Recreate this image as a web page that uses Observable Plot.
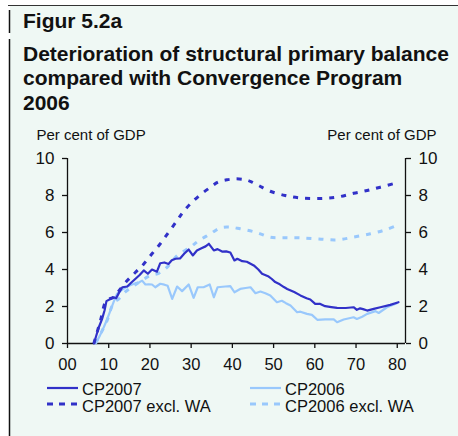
<!DOCTYPE html>
<html>
<head>
<meta charset="utf-8">
<script src="https://cdn.jsdelivr.net/npm/d3@7"></script>
<script src="https://cdn.jsdelivr.net/npm/@observablehq/plot@0.6"></script>
<style>
  html, body { margin: 0; padding: 0; background: #ffffff; }
  #wrap { position: relative; width: 458px; height: 436px; overflow: hidden; font-family: "Liberation Sans", Arial, sans-serif; color: #111; }
  #panel { position: absolute; left: 10px; top: 6px; right: 0; bottom: 0; background: #eff8f4; }
  .abs { position: absolute; white-space: nowrap; }
  .title { font-weight: bold; font-size: 21px; line-height: 24.5px; left: 23px; }
  .leg { font-size: 16.5px; line-height: 17px; }
  #chart { position: absolute; left: 0; top: 130px; }
</style>
</head>
<body>
<div id="wrap">
  <div id="panel"></div>
  <svg class="abs" style="left:0;top:0" width="458" height="436">
    <line x1="8" x2="458" y1="5.5" y2="5.5" stroke="#333" stroke-width="1"/>
    <line x1="9.5" x2="9.5" y1="10" y2="33" stroke="#111" stroke-width="1.5"/>
    <line x1="9.5" x2="9.5" y1="39" y2="436" stroke="#111" stroke-width="1.5"/>
  </svg>
  <div class="abs title" style="top:8.5px">Figur 5.2a</div>
  <div class="abs title" style="top:41.5px">Deterioration of structural primary balance<br>compared with Convergence Program<br>2006</div>
  <div id="chart"></div>
  <div id="legend"></div>
</div>
<script>
// ---- Data (years after 2000, per cent of GDP) ----
const xTicks = [0, 10, 20, 30, 40, 50, 60, 70, 80];
const xTickLabels = ["00", "10", "20", "30", "40", "50", "60", "70", "80"];
const yTicks = [0, 2, 4, 6, 8, 10];

const cp2007Years = [6.4, 7.6, 8.4, 9.0, 9.45, 10.5, 11.2, 11.8, 12.5, 13.3, 14.5, 15.5, 16.5, 17.5, 18.5, 19.5, 20.5, 21.7, 22.5, 23.5, 24.5, 25.3, 26.2, 27.3, 28.3, 29.4, 30.4, 31.4, 32.5, 33.5, 34.3, 35.5, 36.4, 37.5, 38.5, 39.5, 40.5, 41.2, 42.4, 43.5, 45.2, 46.3, 47.2, 48.8, 49.5, 50.4, 51.5, 52.5, 53.3, 55.0, 56.5, 58.0, 58.9, 60.1, 61.2, 62.5, 64.0, 65.4, 67.5, 69.4, 70.2, 71.0, 71.7, 72.7, 74.3, 75.9, 78.3, 80.3];
const cp2007Values = [0, 0.88, 1.33, 1.8, 2.29, 2.42, 2.5, 2.45, 2.75, 3.04, 3.08, 3.3, 3.5, 3.7, 3.95, 3.77, 4.0, 3.88, 4.34, 4.38, 4.3, 4.5, 4.58, 4.6, 4.85, 5.08, 4.76, 5.03, 5.15, 5.25, 5.39, 5.03, 5.1, 4.97, 4.98, 4.92, 4.49, 4.58, 4.45, 4.42, 4.22, 4.0, 3.77, 3.62, 3.5, 3.32, 3.2, 3.05, 2.95, 2.78, 2.6, 2.45, 2.38, 2.14, 2.15, 2.02, 1.97, 1.93, 1.92, 1.96, 1.82, 1.9, 1.86, 1.78, 1.87, 1.96, 2.09, 2.23];

const cp2006Years = [6.8, 7.8, 8.8, 9.6, 10.4, 11.2, 12.0, 13.2, 14.5, 15.5, 16.5, 17.3, 18.1, 18.9, 19.7, 20.5, 21.3, 22.5, 23.5, 24.3, 25.4, 26.6, 27.8, 29.4, 30.6, 31.6, 33.0, 34.5, 35.5, 36.4, 38.3, 39.5, 40.5, 41.9, 43.2, 44.4, 45.6, 46.8, 48.0, 49.2, 50.8, 52.0, 53.0, 54.1, 55.7, 56.5, 58.1, 59.3, 60.6, 62.5, 64.6, 65.4, 67.0, 69.4, 70.2, 71.5, 72.7, 74.7, 75.5, 77.5, 79.9];
const cp2006Values = [0, 0.4, 0.88, 1.3, 1.78, 2.25, 2.68, 2.9, 3.08, 3.17, 3.26, 3.3, 3.4, 3.19, 3.2, 3.19, 3.04, 3.23, 3.18, 3.12, 2.41, 3.08, 2.83, 3.19, 2.47, 3.04, 3.04, 3.19, 2.5, 3.04, 3.08, 3.1, 2.77, 2.95, 3.0, 3.04, 2.72, 2.81, 2.72, 2.6, 2.23, 2.31, 2.18, 2.05, 1.69, 1.72, 1.6, 1.55, 1.28, 1.3, 1.3, 1.15, 1.3, 1.42, 1.33, 1.45, 1.6, 1.75, 1.65, 1.96, 2.18];

const cp2007WAYears = [6.4, 8.0, 9.45, 11.2, 12.5, 14.5, 16.5, 18.5, 20.5, 22.5, 24.5, 26.6, 28.0, 29.8, 32.0, 34.7, 36.5, 38.7, 41.0, 43.2, 44.5, 46.4, 49.2, 52.8, 56.5, 61.3, 65.4, 69.4, 72.7, 75.9, 79.9];
const cp2007WAValues = [0, 1.24, 2.32, 2.5, 2.85, 3.4, 3.85, 4.3, 4.85, 5.39, 6.0, 6.65, 7.1, 7.55, 8.0, 8.45, 8.72, 8.85, 8.9, 8.85, 8.75, 8.54, 8.23, 8.0, 7.87, 7.84, 7.91, 8.12, 8.27, 8.45, 8.69];

const cp2006WAYears = [6.8, 8.2, 9.6, 11.2, 12.4, 14.1, 16.0, 18.0, 20.1, 22.2, 24.5, 26.6, 29.8, 31.8, 34.7, 37.1, 39.5, 41.9, 45.6, 49.2, 52.8, 56.5, 61.0, 65.4, 69.4, 73.5, 76.8, 79.9];
const cp2006WAValues = [0, 0.6, 1.24, 2.2, 2.4, 2.8, 3.1, 3.4, 3.68, 3.8, 4.2, 4.75, 5.2, 5.55, 5.93, 6.25, 6.29, 6.2, 6.02, 5.75, 5.72, 5.71, 5.65, 5.6, 5.75, 5.93, 6.12, 6.38];

const seriesNames = ["CP2007", "CP2006", "CP2007 excl. WA", "CP2006 excl. WA"];
const darkBlue = "#3131c8";
const lightBlue = "#99c8fc";

const zip = (xs, ys) => xs.map((x, i) => ({year: x, value: ys[i]}));
const cp2007 = zip(cp2007Years, cp2007Values);
const cp2006 = zip(cp2006Years, cp2006Values);
const cp2007WA = zip(cp2007WAYears, cp2007WAValues);
const cp2006WA = zip(cp2006WAYears, cp2006WAValues);

const chart = Plot.plot({
  width: 458,
  height: 250,
  marginLeft: 67,
  marginRight: 53,
  marginTop: 28,
  marginBottom: 37,
  x: {domain: [0, 82]},
  y: {domain: [0, 10]},
  style: {background: "transparent", fontFamily: "Liberation Sans, Arial, sans-serif", fontSize: "17px", color: "#111", overflow: "visible"},
  marks: [
    Plot.axisY(yTicks, {anchor: "left", tickSize: 5, tickPadding: 8, label: null, fontSize: 17, strokeWidth: 1.3}),
    Plot.axisY(yTicks, {anchor: "right", tickSize: 5, tickPadding: 8, label: null, fontSize: 17, strokeWidth: 1.3}),
    Plot.axisX(xTicks, {anchor: "bottom", tickSize: 5, tickPadding: 10, label: null, fontSize: 16.5, strokeWidth: 1.3,
      tickFormat: (d) => xTickLabels[xTicks.indexOf(d)]}),
    Plot.ruleX([0, 82], {stroke: "#111", strokeWidth: 1.3}),
    Plot.ruleY([0], {stroke: "#111", strokeWidth: 1.3}),
    Plot.text(["Per cent of GDP"], {frameAnchor: "top-left", textAnchor: "start", lineAnchor: "bottom", dx: -31, dy: -19, fontSize: 15}),
    Plot.text(["Per cent of GDP"], {frameAnchor: "top-right", textAnchor: "end", lineAnchor: "bottom", dx: 31, dy: -19, fontSize: 15}),
    Plot.line(cp2006WA, {x: "year", y: "value", stroke: lightBlue, strokeWidth: 3, strokeDasharray: "5,7", strokeLinecap: "butt", curve: "catmull-rom"}),
    Plot.line(cp2006, {x: "year", y: "value", stroke: lightBlue, strokeWidth: 2.2}),
    Plot.line(cp2007WA, {x: "year", y: "value", stroke: darkBlue, strokeWidth: 3, strokeDasharray: "5,7", strokeLinecap: "butt", curve: "catmull-rom"}),
    Plot.line(cp2007, {x: "year", y: "value", stroke: darkBlue, strokeWidth: 2.2})
  ]
});
document.getElementById("chart").appendChild(chart);

// ---- Legend ----
const legendItems = [
  {name: seriesNames[0], color: darkBlue, dash: null, sx: 47, tx: 82, row: 0},
  {name: seriesNames[1], color: lightBlue, dash: null, sx: 250, tx: 285, row: 0},
  {name: seriesNames[2], color: darkBlue, dash: "6,6", sx: 47, tx: 82, row: 1},
  {name: seriesNames[3], color: lightBlue, dash: "6,6", sx: 250, tx: 285, row: 1}
];
const legend = d3.select("#legend");
const rowTop = [381, 398];
const rowLineY = [388, 404];
legendItems.forEach((it) => {
  const s = legend.append("svg").attr("class", "abs")
    .style("left", it.sx + "px").style("top", (rowLineY[it.row] - 3) + "px")
    .attr("width", 33).attr("height", 6);
  s.append("line").attr("x1", 0).attr("x2", it.dash ? 33 : 31).attr("y1", 3).attr("y2", 3)
    .attr("stroke", it.color).attr("stroke-width", it.dash ? 3 : 2.2)
    .attr("stroke-dasharray", it.dash);
  legend.append("div").attr("class", "abs leg")
    .style("left", it.tx + "px").style("top", rowTop[it.row] + "px")
    .text(it.name);
});
</script>
</body>
</html>
